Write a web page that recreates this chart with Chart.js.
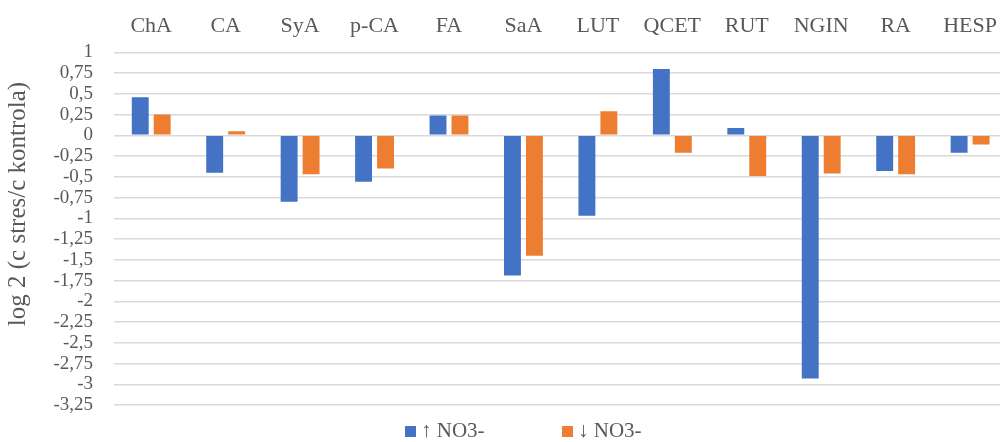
<!DOCTYPE html>
<html>
<head>
<meta charset="utf-8">
<script src="https://cdn.jsdelivr.net/npm/chart.js@4.4.1/dist/chart.umd.min.js"></script>
<style>
html,body{margin:0;padding:0;background:#fff;}
#wrap{width:1000px;height:442px;position:relative;overflow:hidden;}
#c{position:absolute;left:0;top:0;}
#legend{position:absolute;left:0;top:418px;width:1000px;height:24px;font-family:'Liberation Serif','Times New Roman',serif;font-size:21px;color:#595959;}
.item{position:absolute;top:0;height:24px;line-height:24px;white-space:nowrap;}
.box{display:inline-block;width:11px;height:11px;margin-right:5px;vertical-align:0px;}
</style>
</head>
<body>
<div id="wrap"><canvas id="c" width="1010" height="442"></canvas><div id="legend"></div></div>
<script>
const categories = ["ChA","CA","SyA","p-CA","FA","SaA","LUT","QCET","RUT","NGIN","RA","HESP"];
const seriesNames = ["\u2191 NO3-", "\u2193 NO3-"];
const upNO3 = [0.46, -0.45, -0.80, -0.56, 0.24, -1.69, -0.97, 0.80, 0.09, -2.93, -0.43, -0.21];
const downNO3 = [0.25, 0.05, -0.47, -0.40, 0.24, -1.45, 0.29, -0.21, -0.49, -0.46, -0.47, -0.11];
const yMin = -3.25, yMax = 1, yStep = 0.25;
const yTitle = "log 2 (c stres/c kontrola)";
const colors = ['#4472C4', '#ED7D31'];

const serif = "'Liberation Serif','Times New Roman',serif";
const grey = "#595959";

// rotated axis title drawn as canvas text
const yTitlePlugin = {
  id: 'yTitle',
  afterDraw(chart) {
    const ctx = chart.ctx;
    ctx.save();
    ctx.translate(18, 204);
    ctx.rotate(-Math.PI / 2);
    ctx.font = "25px " + serif;
    ctx.fillStyle = grey;
    ctx.textAlign = 'center';
    ctx.textBaseline = 'middle';
    ctx.fillText(yTitle, 0, 0);
    ctx.restore();
  }
};

new Chart(document.getElementById('c'), {
  type: 'bar',
  data: {
    labels: categories,
    datasets: [
      {label: seriesNames[0], data: upNO3, backgroundColor: colors[0], borderWidth:0, categoryPercentage:0.59, barPercentage:0.77},
      {label: seriesNames[1], data: downNO3, backgroundColor: colors[1], borderWidth:0, categoryPercentage:0.59, barPercentage:0.77}
    ]
  },
  plugins: [yTitlePlugin],
  options: {
    responsive: false,
    animation: false,
    devicePixelRatio: 1,
    layout: {padding: {left: 0, right: 0, top: 0, bottom: 37}},
    plugins: {
      legend: {display: false},
      tooltip: {enabled: false}
    },
    scales: {
      x: {
        position: 'top',
        grid: {display: false, drawTicks:false},
        border: {display: false},
        ticks: {font: {family: serif, size: 22}, color: grey, padding: 13, autoSkip:false, maxRotation:0}
      },
      y: {
        min: yMin, max: yMax,
        afterFit: s => { s.width = 114; },
        grid: {color: '#d9d9d9', lineWidth: 1.5, drawTicks: false},
        border: {display: false},
        ticks: {
          stepSize: yStep,
          autoSkip: false,
          font: {family: serif, size: 19},
          color: grey,
          padding: 21,
          callback: v => (Math.round(v*100)/100).toString().replace('.', ',')
        },
        title: {display: false}
      }
    }
  }
});

// HTML legend built from the series names and colours
const legend = document.getElementById('legend');
const legendX = [405, 562];
seriesNames.forEach((name, i) => {
  const it = document.createElement('div');
  it.className = 'item';
  it.style.left = legendX[i] + 'px';
  const b = document.createElement('span');
  b.className = 'box';
  b.style.background = colors[i];
  it.appendChild(b);
  it.appendChild(document.createTextNode(name));
  legend.appendChild(it);
});
</script>
</body>
</html>
